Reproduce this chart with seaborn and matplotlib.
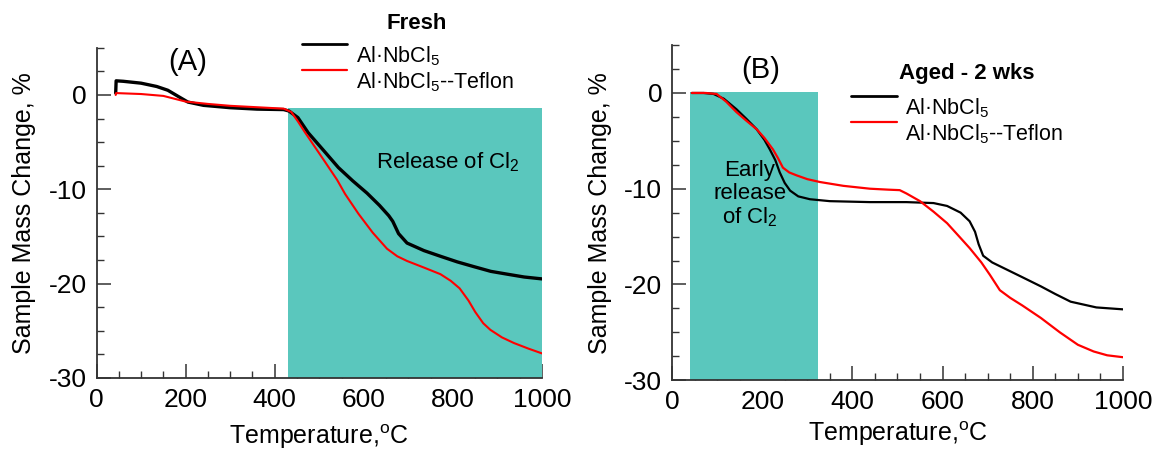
import matplotlib
matplotlib.use("Agg")
import matplotlib.pyplot as plt
import seaborn as sns
from matplotlib.lines import Line2D
from matplotlib.legend_handler import HandlerLine2D
from matplotlib.ticker import MultipleLocator

# ---------------- data ----------------
a_black_T = [43, 44, 60, 100, 135, 160, 185, 205, 240, 300, 360, 420, 432, 452, 475, 510,
             543, 575, 607, 635, 656, 665, 678, 697, 735, 772, 810, 847, 885, 922, 960, 1000]
a_black_M = [0.2, 1.5, 1.45, 1.25, 0.9, 0.5, -0.2, -0.75, -1.1, -1.35, -1.5, -1.55, -1.7, -2.4, -4.0, -5.9,
             -7.7, -9.1, -10.4, -11.7, -12.8, -13.4, -14.7, -15.7, -16.5, -17.1, -17.7, -18.2, -18.7, -19.0, -19.3, -19.5]

a_red_T = [43, 44, 100, 150, 200, 250, 300, 360, 420, 437, 452, 467, 490, 513, 540, 558, 588, 620,
           652, 675, 697, 735, 772, 795, 815, 835, 850, 868, 884, 910, 937, 970, 1000]
a_red_M = [0.0, 0.2, 0.1, -0.1, -0.7, -0.95, -1.15, -1.3, -1.45, -1.8, -2.8, -3.9, -5.5, -7.1, -9.0, -10.5, -12.6, -14.6,
           -16.3, -17.1, -17.6, -18.3, -19.0, -19.7, -20.5, -21.8, -23.0, -24.2, -24.9, -25.7, -26.3, -26.9, -27.4]

b_black_T = [44, 70, 92, 115, 143, 165, 188, 205, 217, 229, 239, 250, 262, 280, 306, 350, 439, 520,
             580, 610, 640, 660, 672, 680, 690, 710, 736, 775, 818, 850, 884, 941, 1000]
b_black_M = [0.0, 0.0, -0.1, -0.6, -1.7, -2.7, -3.8, -4.9, -5.9, -7.0, -8.3, -9.4, -10.2, -10.8, -11.1, -11.3, -11.4, -11.4,
             -11.5, -11.8, -12.5, -13.4, -14.5, -15.8, -17.0, -17.7, -18.3, -19.2, -20.2, -21.0, -21.8, -22.4, -22.6]

b_red_T = [44, 75, 99, 120, 143, 165, 188, 205, 224, 235, 246, 260, 276, 300, 328, 380, 439, 480, 505,
           520, 550, 580, 610, 637, 660, 686, 705, 727, 750, 777, 818, 860, 900, 935, 965, 1000]
b_red_M = [0.0, 0.0, -0.1, -0.9, -2.0, -2.9, -3.8, -4.7, -5.9, -6.8, -7.8, -8.3, -8.6, -9.0, -9.3, -9.7, -10.0, -10.1, -10.15,
           -10.5, -11.3, -12.4, -13.6, -15.0, -16.2, -17.7, -19.0, -20.6, -21.4, -22.2, -23.5, -25.0, -26.3, -27.0, -27.4, -27.6]

# shaded regions (x range, y range)
a_span_T = [430, 1000]
a_span_M = [-30, -1.4]
b_span_T = [40, 324]
b_span_M = [-30, 0.15]

x_ticks = [0, 200, 400, 600, 800, 1000]
y_ticks = [-30, -20, -10, 0]

label_black = "Al\u00b7NbCl$_\\mathregular{5}$"
label_red = "Al\u00b7NbCl$_\\mathregular{5}$--Teflon"

# ---------------- style ----------------
sns.set_style("ticks")
plt.rcParams["font.family"] = ["Liberation Sans", "DejaVu Sans"]
plt.rcParams["mathtext.fontset"] = "custom"
plt.rcParams["mathtext.rm"] = "Liberation Sans"
plt.rcParams["mathtext.it"] = "Liberation Sans:italic"
plt.rcParams["mathtext.bf"] = "Liberation Sans:bold"
plt.rcParams["axes.unicode_minus"] = False
plt.rcParams["text.color"] = "black"
plt.rcParams["axes.labelcolor"] = "black"

TEAL = "#5AC7BD"
SPINE = "#333333"

fig = plt.figure(figsize=(11.52, 4.51), dpi=100)
axA = fig.add_axes([0.0838, 0.162, 0.3867, 0.732])
axB = fig.add_axes([0.5833, 0.157, 0.3915, 0.743])


def style_axis(ax, xpad):
    ax.set_xlim(0, 1000)
    ax.set_ylim(-30, 5)
    ax.set_xticks(x_ticks)
    ax.set_yticks(y_ticks)
    ax.xaxis.set_minor_locator(MultipleLocator(50))
    ax.yaxis.set_minor_locator(MultipleLocator(2.5))
    for s in ["top", "right"]:
        ax.spines[s].set_visible(False)
    for s in ["left", "bottom"]:
        ax.spines[s].set_color(SPINE)
        ax.spines[s].set_linewidth(1.3)
        ax.spines[s].set_zorder(5)
    ax.tick_params(which="major", direction="in", length=10, width=1.1, color=SPINE,
                   labelsize=19, labelcolor="black", pad=7)
    ax.tick_params(which="minor", direction="in", length=5, width=1.0, color=SPINE)
    ax.set_xlabel("Temperature,$^\\mathregular{o}$C", fontsize=18, labelpad=xpad)
    ax.set_ylabel("Sample Mass Change, %", fontsize=18, labelpad=9)
    ax.grid(False)


# ---------------- panel A ----------------
axA.fill_between(a_span_T, a_span_M[0], a_span_M[1], color=TEAL, linewidth=0, zorder=1)
sns.lineplot(x=a_black_T, y=a_black_M, ax=axA, color="black", linewidth=2.4, sort=False,
             estimator=None, zorder=3)
sns.lineplot(x=a_red_T, y=a_red_M, ax=axA, color="#FF0000", linewidth=1.5, sort=False,
             estimator=None, zorder=4)
style_axis(axA, xpad=8)
fig.text(0.163, 0.863, "(A)", fontsize=21, ha="center", va="center")
axA.text(788, -7.1, "Release of Cl$_\\mathregular{2}$", fontsize=16, ha="center", va="center", zorder=6)

# ---------------- panel B ----------------
axB.fill_between(b_span_T, b_span_M[0], b_span_M[1], color=TEAL, linewidth=0, zorder=1)
sns.lineplot(x=b_black_T, y=b_black_M, ax=axB, color="black", linewidth=1.6, sort=False,
             estimator=None, zorder=3)
sns.lineplot(x=b_red_T, y=b_red_M, ax=axB, color="#FF0000", linewidth=1.6, sort=False,
             estimator=None, zorder=4)
style_axis(axB, xpad=4)
fig.text(0.66, 0.845, "(B)", fontsize=21, ha="center", va="center")
axB.text(173, -10.6, "Early\nrelease\nof Cl$_\\mathregular{2}$", fontsize=16, ha="center",
         va="center", linespacing=1.1, zorder=6)


# ---------------- legends ----------------
class RaisedLine(HandlerLine2D):
    """Legend line drawn a little above the text centre, as in the original figure."""
    def create_artists(self, legend, orig_handle, xdescent, ydescent, width, height,
                       fontsize, trans):
        artists = super().create_artists(legend, orig_handle, xdescent, ydescent, width,
                                         height, fontsize, trans)
        for a in artists:
            a.set_ydata([y + 0.5 * fontsize for y in a.get_ydata()])
        return artists


handles = [Line2D([0], [0], color="black", lw=2.0), Line2D([0], [0], color="#FF0000", lw=1.6)]
labels = [label_black, label_red]
hmap = {h: RaisedLine() for h in handles}

fig.text(0.362, 0.949, "Fresh", fontsize=16, fontweight="bold", ha="center", va="center")
fig.legend(handles, labels, loc="upper left", bbox_to_anchor=(0.262, 0.902),
           bbox_transform=fig.transFigure, frameon=False, fontsize=15.5,
           handlelength=2.1, handletextpad=0.4, labelspacing=0.1,
           borderpad=0, borderaxespad=0, handler_map=hmap)

fig.text(0.839, 0.838, "Aged - 2 wks", fontsize=16, fontweight="bold", ha="center", va="center")
fig.legend(handles, labels, loc="upper left", bbox_to_anchor=(0.739, 0.786),
           bbox_transform=fig.transFigure, frameon=False, fontsize=15.5,
           handlelength=2.1, handletextpad=0.4, labelspacing=0.12,
           borderpad=0, borderaxespad=0, handler_map=hmap)

fig.savefig("out.png", dpi=100)
